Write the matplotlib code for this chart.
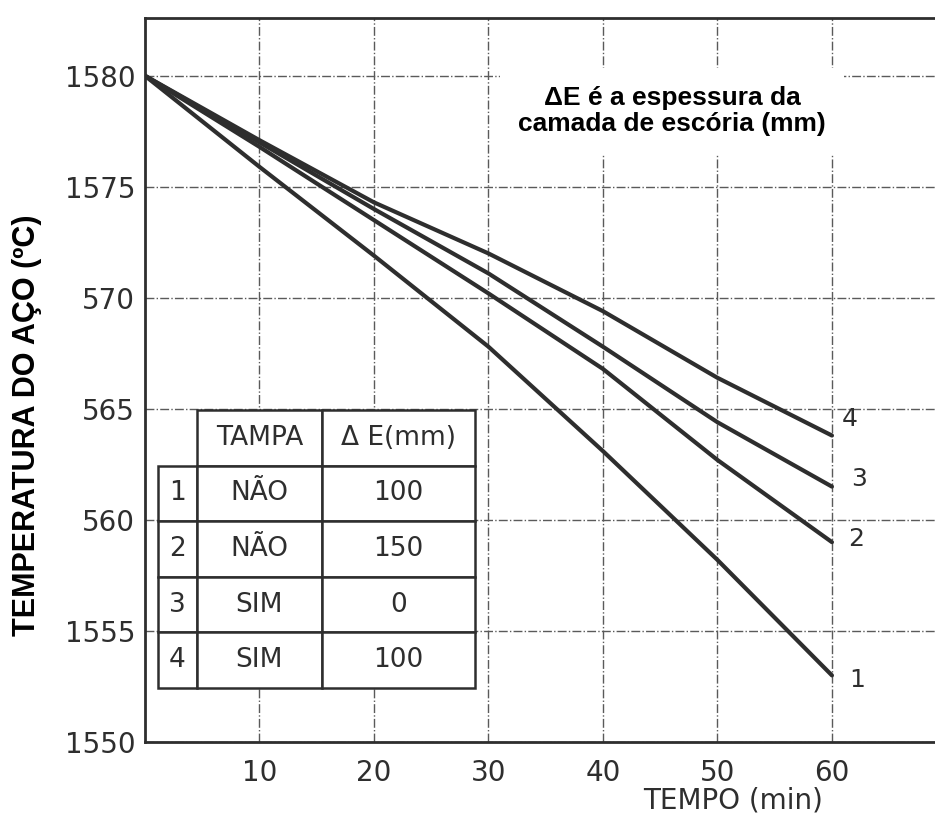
import matplotlib
matplotlib.use("Agg")
import matplotlib.pyplot as plt

# tempo (min) e temperatura do aco (C)
tempo = [0, 10, 20, 30, 40, 50, 60]
curva_1 = [1580, 1575.9, 1571.9, 1567.8, 1563.1, 1558.2, 1553.0]
curva_2 = [1580, 1576.8, 1573.5, 1570.2, 1566.8, 1562.7, 1559.0]
curva_3 = [1580, 1577.0, 1574.0, 1571.1, 1567.8, 1564.4, 1561.5]
curva_4 = [1580, 1577.1, 1574.3, 1572.0, 1569.4, 1566.4, 1563.8]
nomes = ["1", "2", "3", "4"]

x_ticks = [10, 20, 30, 40, 50, 60]
y_ticks = [1550, 1555, 1560, 1565, 1570, 1575, 1580]
y_tick_labels = ["1550", "1555", "560", "565", "570", "1575", "1580"]

tampa = ["NÃO", "NÃO", "SIM", "SIM"]
espessura = ["100", "150", "0", "100"]

ink = "#2e2e2e"
fig = plt.figure(figsize=(9.35, 8.19), dpi=100)
ax = fig.add_axes([0.155, 0.094, 0.845, 0.884])

ax.grid(True, linestyle="-.", color="#5a5a5a", linewidth=1.0)
ax.set_axisbelow(True)

curvas = [curva_1, curva_2, curva_3, curva_4]
label_offsets = [(25, -5), (24, 3), (27, 8), (18, 17)]
for serie, nome, off in zip(curvas, nomes, label_offsets):
    ax.plot(tempo, serie, color=ink, linewidth=3, solid_capstyle="round",
            solid_joinstyle="round", zorder=4)
    ax.annotate(nome, (tempo[-1], serie[-1]), xytext=off, textcoords="offset pixels",
                ha="center", va="center", fontsize=18, color=ink)

ax.set_xlim(0, 69)
ax.set_ylim(1550, 1582.6)
ax.set_xticks(x_ticks)
ax.set_yticks(y_ticks)
ax.set_yticklabels(y_tick_labels)
ax.tick_params(length=0, labelsize=20, labelcolor=ink, pad=7)
ax.tick_params(axis="x", pad=12)

for side in ["left", "bottom", "top"]:
    ax.spines[side].set_linewidth(2)
    ax.spines[side].set_color(ink)
ax.spines["right"].set_visible(False)

ax.set_xlabel("TEMPO (min)", fontsize=20, color=ink)
ax.xaxis.set_label_coords(0.744, -0.062)
ax.set_ylabel("TEMPERATURA DO AÇO (ºC)", fontsize=22, fontweight="bold",
              family="Liberation Sans", color="black")
ax.yaxis.set_label_coords(-0.13, 0.438)

ax.text(0.667, 0.8715, "ΔE é a espessura da\ncamada de escória (mm)", transform=ax.transAxes,
        ha="center", va="center", fontsize=19, fontweight="bold", family="Liberation Sans",
        linespacing=1.1, bbox=dict(boxstyle="square,pad=0.7", fc="white", ec="none"), zorder=5)

linhas = [[n, t, e] for n, t, e in zip(nomes, tampa, espessura)]
tab = ax.table(cellText=linhas, colLabels=["", "TAMPA", "Δ E(mm)"],
               colWidths=[39 / 790, 125 / 790, 153 / 790], cellLoc="center",
               bbox=[0.0165, 0.0746, 0.401, 0.384], zorder=3)
tab.auto_set_font_size(False)
for (r, c), cell in tab.get_celld().items():
    cell.set_linewidth(1.8)
    cell.set_edgecolor(ink)
    cell.get_text().set_fontsize(19)
    cell.get_text().set_color(ink)
    if r == 0 and c == 0:
        cell.set_visible(False)

plt.savefig("out.png", dpi=100)
plt.close()
